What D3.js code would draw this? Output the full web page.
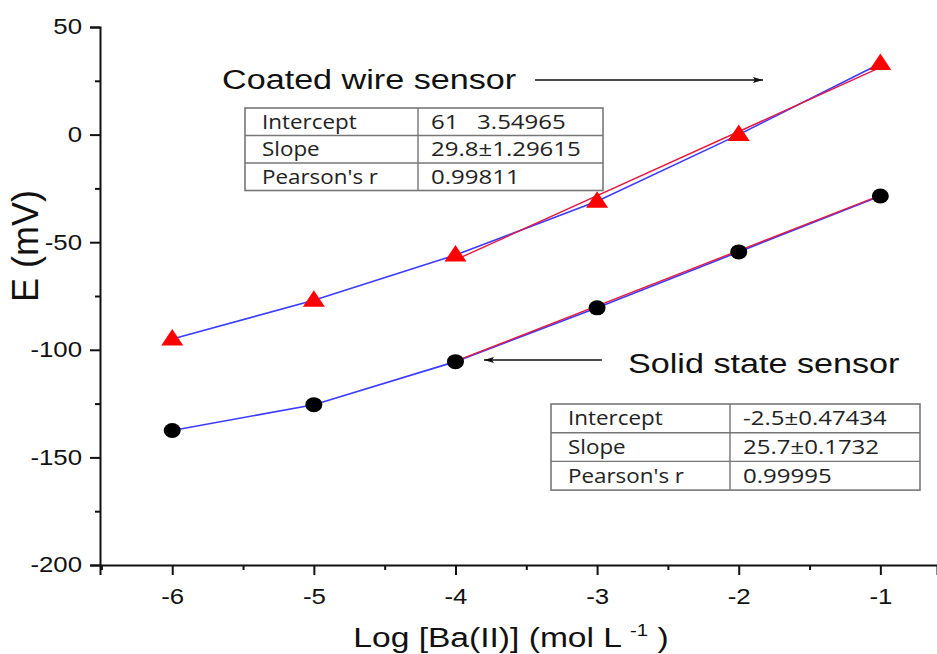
<!DOCTYPE html>
<html>
<head>
<meta charset="utf-8">
<script src="https://cdn.jsdelivr.net/npm/d3@7"></script>
<style>
  body { margin: 0; background: #fff; }
  svg { display: block; }
  text { font-family: "Liberation Sans", Arial, sans-serif; fill: #111; }
  .tbl text { font-family: "Open Sans", sans-serif; white-space: pre; fill: #222; }
</style>
</head>
<body>
<svg></svg>
<script>
const width = 937;
const height = 654;
const stretch = 1.2; // the original figure is a little wider than tall

// data
const logConc = [-6, -5, -4, -3, -2, -1];
const coatedE = [-95, -77, -56, -31, 0, 33];
const solidE = [-137.5, -125.5, -105.5, -80.5, -54.5, -28.5];

// linear fits (intercept, slope) over the linear range
const fitRange = [-4, -1];
const coatedFit = [61, 29.8];
const solidFit = [-2.5, 25.7];

const coatedRows = [["Intercept", "61   3.54965"], ["Slope", "29.8\u00b11.29615"], ["Pearson's r", "0.99811"]];
const solidRows = [["Intercept", "-2.5\u00b10.47434"], ["Slope", "25.7\u00b10.1732"], ["Pearson's r", "0.99995"]];

const xTicks = [-6, -5, -4, -3, -2, -1];
const xMinor = [-6.5, -5.5, -4.5, -3.5, -2.5, -1.5];
const yTicks = [-200, -150, -100, -50, 0, 50];
const yMinor = [-175, -125, -75, -25, 25];

const svg = d3.select("svg")
    .attr("width", width)
    .attr("height", height);

const x = d3.scaleLinear().domain([-6.51, -0.6]).range([100, 937]);
const y = d3.scaleLinear().domain([-200, 50]).range([565, 27]);

function label(px, py, size, str, sx) {
    return svg.append("text")
        .attr("transform", `translate(${px},${py}) scale(${sx || stretch},1)`)
        .style("font-size", size + "px")
        .text(str);
}

// axes
svg.append("g")
    .attr("transform", `translate(0,${y(-200)})`)
    .call(d3.axisBottom(x).tickValues(xTicks).tickSize(10).tickPadding(14).tickFormat(d => String(d)))
    .selectAll(".tick text")
    .attr("transform", `scale(${stretch},1)`);
svg.append("g")
    .attr("transform", `translate(0,${y(-200)})`)
    .call(d3.axisBottom(x).tickValues(xMinor).tickSize(5).tickFormat(""))
    .select(".domain").remove();

svg.append("g")
    .attr("transform", `translate(${x(-6.51)},0)`)
    .call(d3.axisLeft(y).tickValues(yTicks).tickSize(10).tickPadding(8).tickFormat(d => String(d)))
    .selectAll(".tick text")
    .attr("x", -18 / stretch)
    .attr("transform", `scale(${stretch},1)`);
svg.append("g")
    .attr("transform", `translate(${x(-6.51)},0)`)
    .call(d3.axisLeft(y).tickValues(yMinor).tickSize(5).tickFormat(""))
    .select(".domain").remove();

svg.selectAll(".domain").attr("stroke", "#111").attr("stroke-width", 2);
svg.selectAll(".tick line").attr("stroke", "#111").attr("stroke-width", 2);
svg.selectAll(".tick text")
    .style("font-size", "21.5px")
    .style("font-family", "Liberation Sans, Arial, sans-serif")
    .attr("fill", "#222");

// axis titles
svg.append("text")
    .attr("transform", `translate(38,246) rotate(-90) scale(1.16,${stretch})`)
    .attr("text-anchor", "middle")
    .style("font-size", "31px")
    .text("E (mV)");

const xTitle = svg.append("text")
    .attr("transform", `translate(511,647) scale(${stretch},1)`)
    .attr("text-anchor", "middle")
    .style("font-size", "28px");
xTitle.append("tspan").text("Log [Ba(II)] (mol L ");
xTitle.append("tspan").attr("dy", -11).style("font-size", "17px").text("-1");
xTitle.append("tspan").attr("dy", 11).text(" )");

// connecting lines
const line = d3.line().x(d => x(d[0])).y(d => y(d[1]));
const series = [
    { name: "coated", pts: logConc.map((c, i) => [c, coatedE[i]]), fit: coatedFit },
    { name: "solid", pts: logConc.map((c, i) => [c, solidE[i]]), fit: solidFit }
];

svg.selectAll("path.conn")
    .data(series)
    .enter()
    .append("path")
    .attr("class", "conn")
    .attr("d", d => line(d.pts))
    .attr("fill", "none")
    .attr("stroke", "#3b3bff")
    .attr("stroke-width", 1.6);

svg.selectAll("path.fit")
    .data(series)
    .enter()
    .append("path")
    .attr("class", "fit")
    .attr("d", d => line(fitRange.map(c => [c, d.fit[0] + d.fit[1] * c])))
    .attr("fill", "none")
    .attr("stroke", "#e8173f")
    .attr("stroke-width", 1.4);

// markers
svg.selectAll("path.tri")
    .data(series[0].pts)
    .enter()
    .append("path")
    .attr("class", "tri")
    .attr("d", d => `M${x(d[0])},${y(d[1]) - 10}L${x(d[0]) + 11},${y(d[1]) + 6.5}L${x(d[0]) - 11},${y(d[1]) + 6.5}Z`)
    .attr("fill", "#ff0000");

svg.selectAll("ellipse.dot")
    .data(series[1].pts)
    .enter()
    .append("ellipse")
    .attr("class", "dot")
    .attr("cx", d => x(d[0]))
    .attr("cy", d => y(d[1]))
    .attr("rx", 8.5)
    .attr("ry", 7.5)
    .attr("fill", "#000");

// annotations
svg.append("defs").append("marker")
    .attr("id", "head")
    .attr("viewBox", "0 0 10 6")
    .attr("refX", 10).attr("refY", 3)
    .attr("markerWidth", 12).attr("markerHeight", 6)
    .attr("markerUnits", "userSpaceOnUse")
    .attr("orient", "auto")
    .append("path").attr("d", "M0,0L10,3L0,6L2,3Z").attr("fill", "#111");

label(222, 89, 28, "Coated wire sensor", 1.22);
svg.append("line")
    .attr("x1", 535).attr("y1", 80).attr("x2", 763).attr("y2", 80)
    .attr("stroke", "#111").attr("stroke-width", 1.5)
    .attr("marker-end", "url(#head)");

label(628, 373, 28, "Solid state sensor", 1.22);
svg.append("line")
    .attr("x1", 602).attr("y1", 360).attr("x2", 484).attr("y2", 360)
    .attr("stroke", "#111").attr("stroke-width", 1.5)
    .attr("marker-end", "url(#head)");

// fit tables
function drawTable(rows, left, top, colW, rowH) {
    const g = svg.append("g").attr("class", "tbl").attr("transform", `translate(${left},${top})`);
    const w = colW[0] + colW[1];
    g.append("rect")
        .attr("width", w).attr("height", rowH * rows.length)
        .attr("fill", "#fff").attr("stroke", "#777").attr("stroke-width", 1.6);
    g.selectAll("line.row")
        .data(d3.range(1, rows.length))
        .enter().append("line")
        .attr("x1", 0).attr("x2", w)
        .attr("y1", i => i * rowH).attr("y2", i => i * rowH)
        .attr("stroke", "#777").attr("stroke-width", 1.4);
    g.append("line")
        .attr("x1", colW[0]).attr("x2", colW[0])
        .attr("y1", 0).attr("y2", rowH * rows.length)
        .attr("stroke", "#777").attr("stroke-width", 1.4);
    const r = g.selectAll("g.r").data(rows).enter().append("g")
        .attr("transform", (d, i) => `translate(0,${i * rowH + rowH / 2 + 7})`);
    r.append("text").attr("transform", "translate(17,0) scale(1.12,1)")
        .style("font-size", "20px").text(d => d[0]);
    r.append("text").attr("transform", `translate(${colW[0] + 13},0) scale(1.2,1)`)
        .style("font-size", "20px").text(d => d[1]);
}

drawTable(coatedRows, 245, 108, [173, 358 - 173], 27.5);
drawTable(solidRows, 551, 404, [179, 369 - 179], 28.7);
</script>
</body>
</html>
